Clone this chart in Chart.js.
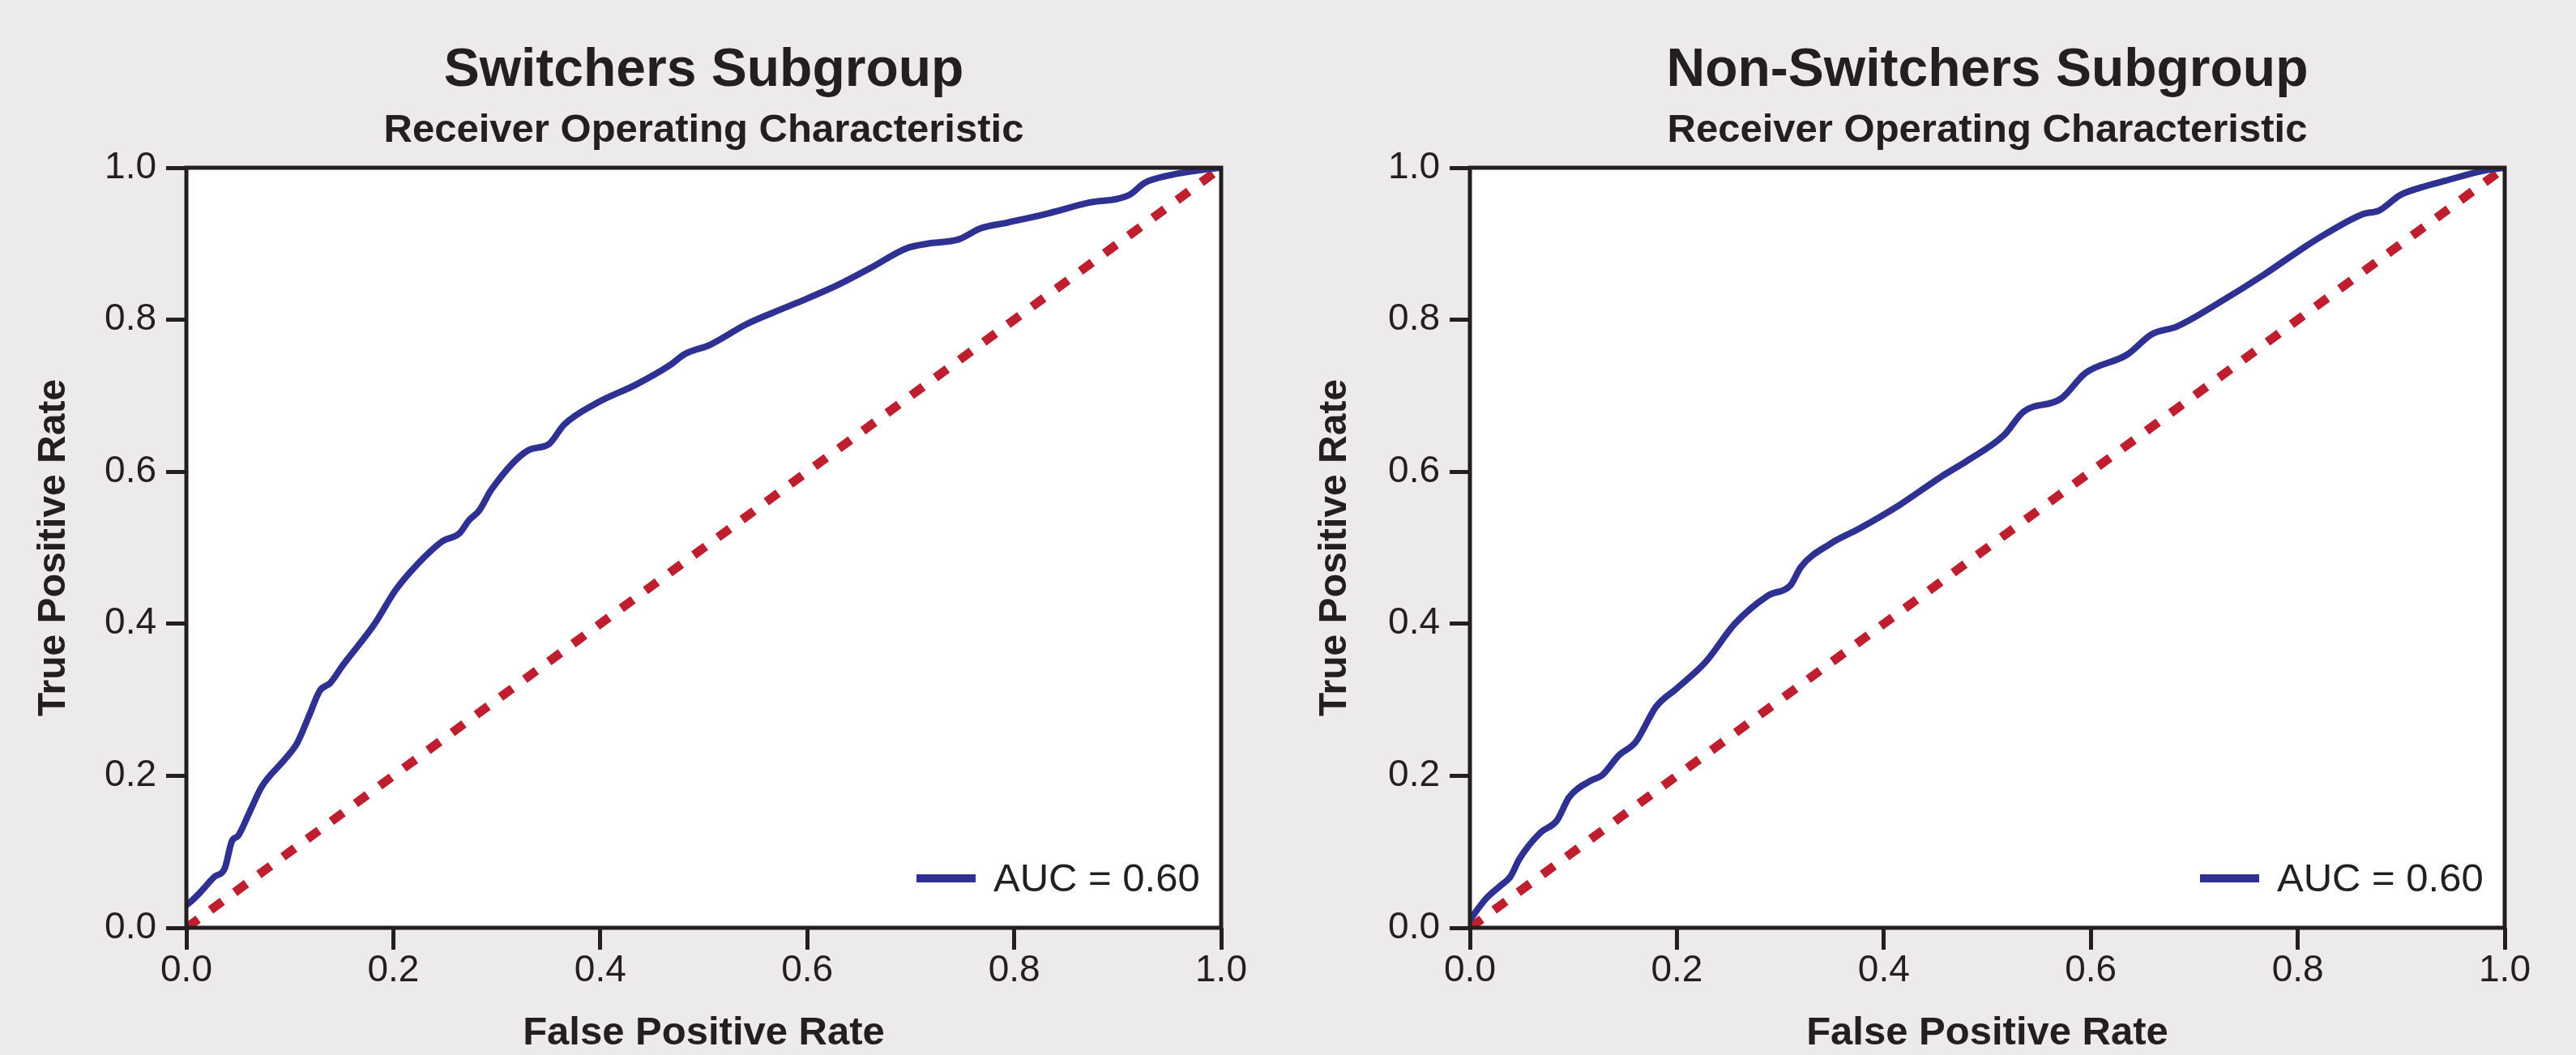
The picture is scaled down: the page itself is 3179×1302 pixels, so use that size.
<!DOCTYPE html>
<html><head><meta charset="utf-8">
<script src="https://cdn.jsdelivr.net/npm/chart.js@4.4.1/dist/chart.umd.min.js"></script>
<style>
html,body{margin:0;padding:0;background:#ECEAEB;width:3179px;height:1302px;overflow:hidden}
.wrap{position:absolute;top:0;height:1302px}
</style></head><body>
<div class="wrap" style="left:0;width:1600px"><canvas id="c1"></canvas></div>
<div class="wrap" style="left:1600px;width:1579px"><canvas id="c2"></canvas></div>
<script>
const panelTitles = ['Switchers Subgroup', 'Non-Switchers Subgroup'];
const subtitleText = 'Receiver Operating Characteristic';
const xAxisLabel = 'False Positive Rate';
const yAxisLabel = 'True Positive Rate';
const tickValues = [0, 0.2, 0.4, 0.6, 0.8, 1.0];
const seriesLabel = 'AUC = 0.60';

const switchersFpr = [0.0, 0.003, 0.013, 0.027, 0.037, 0.044, 0.050, 0.061, 0.073, 0.096, 0.107, 0.118, 0.129, 0.139, 0.151, 0.182, 0.202, 0.221, 0.248, 0.264, 0.273, 0.283, 0.295, 0.330, 0.350, 0.365, 0.396, 0.435, 0.467, 0.482, 0.506, 0.541, 0.568, 0.595, 0.630, 0.661, 0.696, 0.716, 0.747, 0.767, 0.794, 0.833, 0.872, 0.911, 0.926, 0.950, 0.981, 1.0];
const switchersTpr = [0.03, 0.033, 0.046, 0.067, 0.078, 0.114, 0.121, 0.152, 0.186, 0.223, 0.243, 0.277, 0.312, 0.322, 0.345, 0.400, 0.444, 0.475, 0.509, 0.519, 0.536, 0.549, 0.577, 0.628, 0.636, 0.662, 0.690, 0.715, 0.740, 0.755, 0.767, 0.794, 0.810, 0.825, 0.846, 0.868, 0.894, 0.900, 0.906, 0.920, 0.928, 0.940, 0.954, 0.964, 0.980, 0.990, 0.997, 1.0];

const nonSwitchersFpr = [0.0, 0.003, 0.016, 0.031, 0.039, 0.048, 0.068, 0.084, 0.096, 0.116, 0.128, 0.144, 0.160, 0.180, 0.200, 0.228, 0.256, 0.288, 0.310, 0.320, 0.348, 0.376, 0.416, 0.456, 0.480, 0.516, 0.535, 0.571, 0.595, 0.635, 0.659, 0.683, 0.727, 0.767, 0.807, 0.827, 0.863, 0.879, 0.899, 0.919, 0.943, 0.979, 1.0];
const nonSwitchersTpr = [0.01, 0.016, 0.039, 0.057, 0.067, 0.091, 0.125, 0.141, 0.172, 0.193, 0.201, 0.227, 0.244, 0.291, 0.315, 0.350, 0.400, 0.437, 0.451, 0.475, 0.505, 0.525, 0.557, 0.594, 0.614, 0.648, 0.679, 0.696, 0.730, 0.754, 0.781, 0.791, 0.825, 0.859, 0.896, 0.913, 0.939, 0.944, 0.964, 0.974, 0.983, 0.996, 1.0];

const chanceFpr = [0, 1];
const chanceTpr = [0, 1];

const FONT = '"Liberation Sans", Arial, sans-serif';
const INK = '#231F20';
const BLUE = '#2E3192';
const RED = '#BE1E2D';

function toPoints(xs, ys) { return xs.map((x, i) => ({x: x, y: ys[i]})); }

const framePlugin = {
  id: 'frameAndLegend',
  beforeDraw(chart) {
    const {ctx, chartArea: a} = chart;
    ctx.save();
    ctx.fillStyle = '#FFFFFF';
    ctx.fillRect(a.left, a.top, a.right - a.left, a.bottom - a.top);
    ctx.restore();
  },
  afterDatasetsDraw(chart) {
    const {ctx, chartArea: a} = chart;
    ctx.save();
    ctx.strokeStyle = INK;
    ctx.lineWidth = 5;
    ctx.strokeRect(a.left, a.top, a.right - a.left, a.bottom - a.top);
    // legend for first dataset
    const ds = chart.data.datasets[0];
    const y = a.bottom - 61;
    ctx.strokeStyle = ds.borderColor;
    ctx.lineWidth = 10;
    ctx.lineCap = 'butt';
    ctx.beginPath();
    ctx.moveTo(a.right - 376, y);
    ctx.lineTo(a.right - 303, y);
    ctx.stroke();
    ctx.fillStyle = INK;
    ctx.font = '49px ' + FONT;
    ctx.textAlign = 'left';
    ctx.textBaseline = 'alphabetic';
    ctx.fillText(ds.label, a.right - 281, a.bottom - 45);
    ctx.restore();
  }
};

function axisCommon(tickLen, pad) {
  return {
    type: 'linear', min: 0, max: 1,
    afterBuildTicks: (s) => { s.ticks = tickValues.map(v => ({value: v})); },
    grid: {display: true, drawOnChartArea: false, drawTicks: true, tickLength: tickLen, tickWidth: 5, tickColor: INK, color: INK},
    border: {display: false},
    ticks: {color: INK, padding: pad, font: {family: FONT, size: 46, lineHeight: 1}, callback: (v) => Number(v).toFixed(1)}
  };
}

function makeChart(id, title, fpr, tpr, yWidth, padRight, yTitlePad) {
  const xs = axisCommon(27, 3);
  xs.afterFit = (s) => { s.height = 157; };
  xs.title = {display: true, text: xAxisLabel, color: INK, font: {family: FONT, size: 49, weight: 'bold', lineHeight: 1}, padding: {top: 0, bottom: 2.5}};
  const ys = axisCommon(25, 12);
  ys.afterFit = (s) => { s.width = yWidth; };
  ys.title = {display: true, text: yAxisLabel, color: INK, font: {family: FONT, size: 48, weight: 'bold', lineHeight: 1}, padding: {top: yTitlePad, bottom: 0}};
  return new Chart(document.getElementById(id), {
    type: 'line',
    data: {
      datasets: [
        {label: seriesLabel, data: toPoints(fpr, tpr), borderColor: BLUE, borderWidth: 8, pointRadius: 0, cubicInterpolationMode: 'monotone', fill: false},
        {label: 'chance', data: toPoints(chanceFpr, chanceTpr), borderColor: RED, borderWidth: 11, borderDash: [18, 19], pointRadius: 0, fill: false}
      ]
    },
    options: {
      responsive: true, maintainAspectRatio: false, animation: false,
      layout: {padding: {left: 0, right: padRight, top: 0, bottom: 0}},
      plugins: {
        legend: {display: false},
        tooltip: {enabled: false},
        title: {display: true, fullSize: false, text: title, color: INK, font: {family: FONT, size: 66, weight: 'bold', lineHeight: 1}, padding: {top: 55, bottom: 0}},
        subtitle: {display: true, fullSize: false, text: subtitleText, color: INK, font: {family: FONT, size: 49, weight: 'bold', lineHeight: 1}, padding: {top: 16, bottom: 21}}
      },
      scales: {x: xs, y: ys}
    },
    plugins: [framePlugin]
  });
}

makeChart('c1', panelTitles[0], switchersFpr, switchersTpr, 230, 93, 43);
makeChart('c2', panelTitles[1], nonSwitchersFpr, nonSwitchersTpr, 214, 88, 24);
</script>
</body></html>
